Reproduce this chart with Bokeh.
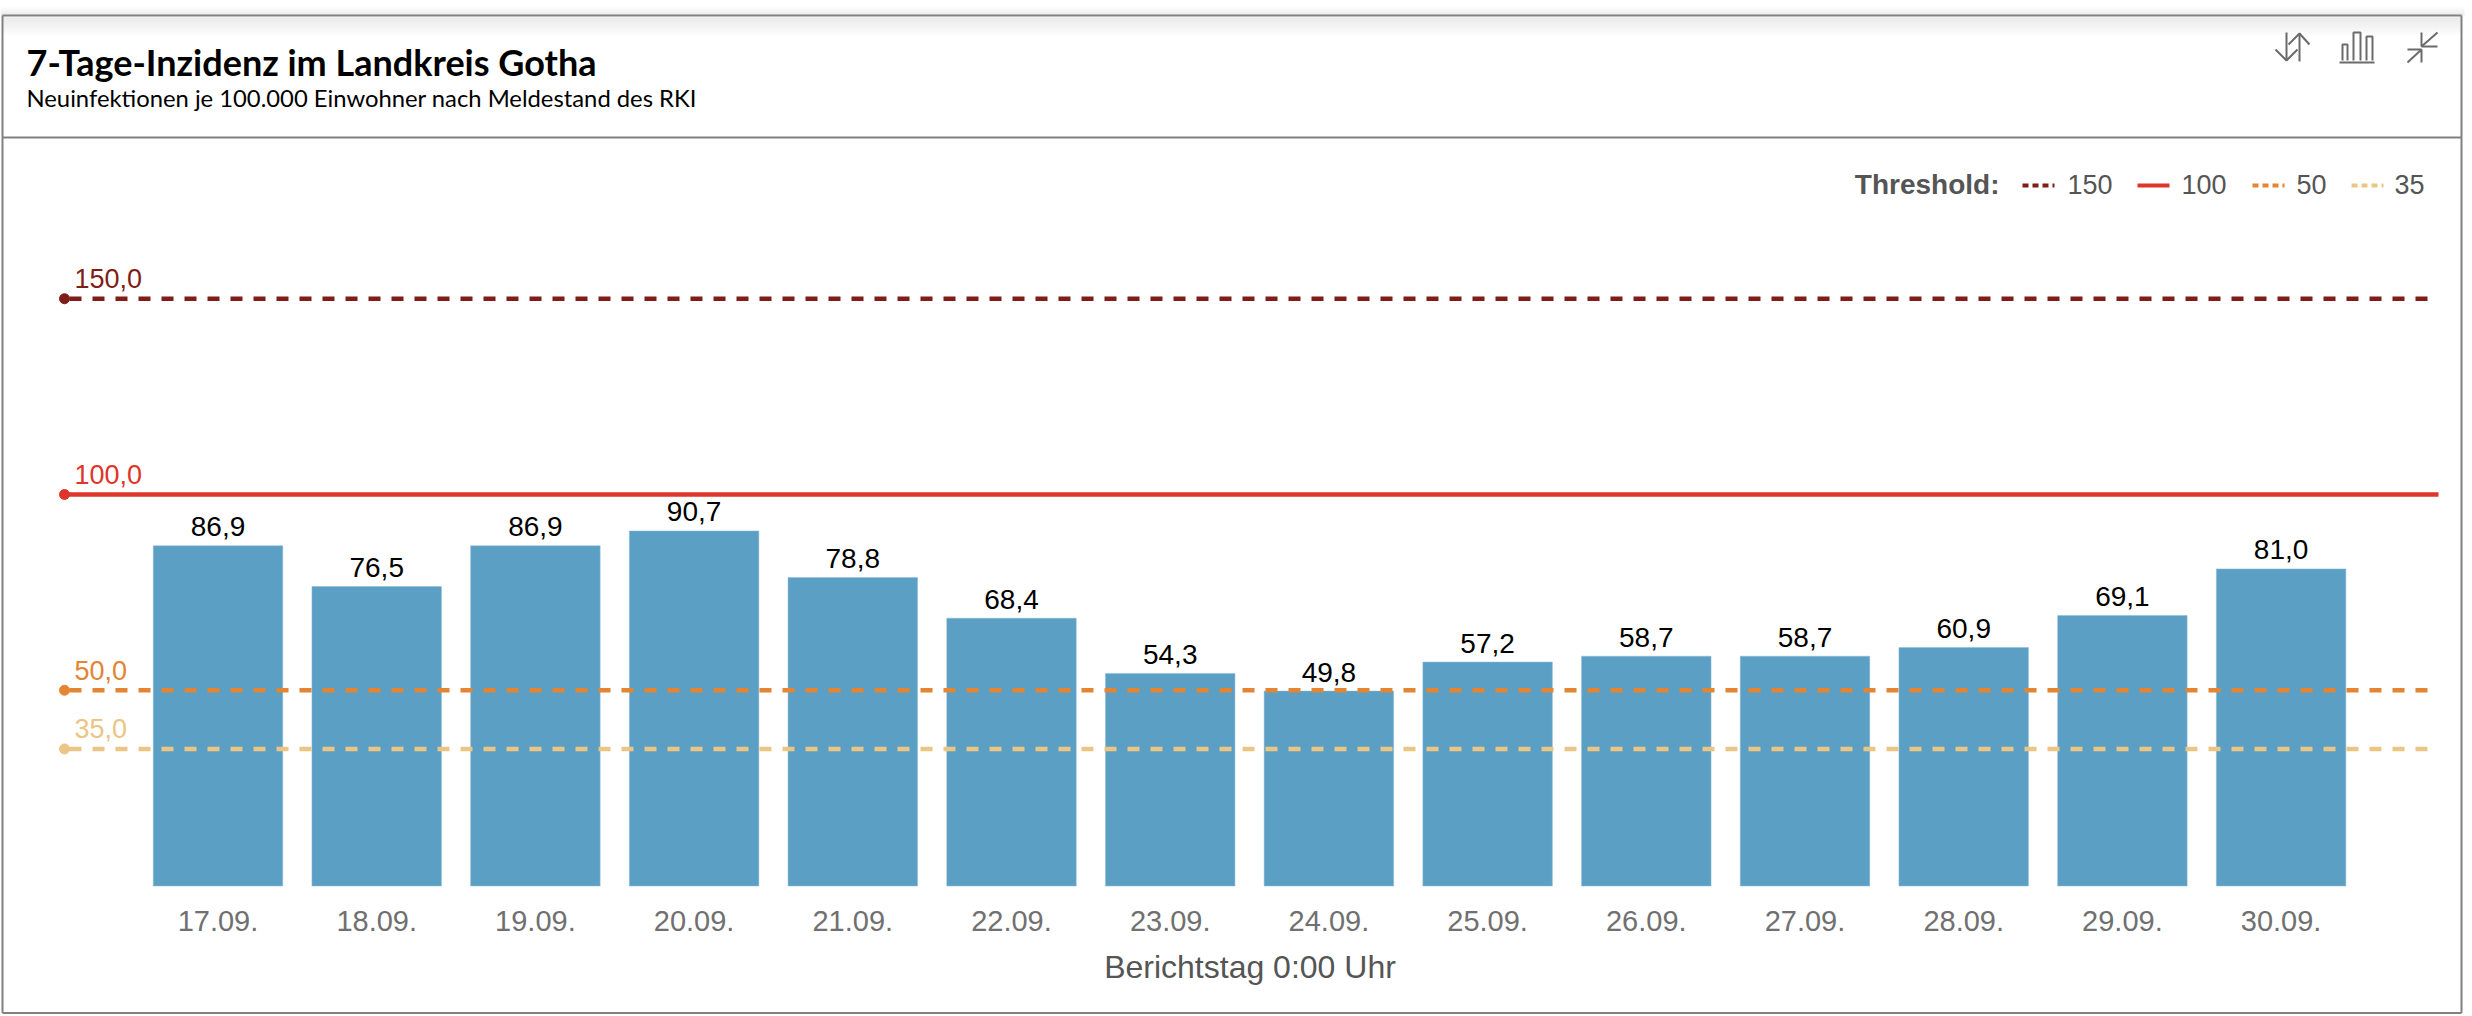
from bokeh.plotting import figure
from bokeh.models import Range1d, LinearAxis, FixedTicker
from bokeh.core.properties import value
from bokeh.embed import file_html
from bokeh.resources import INLINE

# ---- data ----
days = ["17.09.", "18.09.", "19.09.", "20.09.", "21.09.", "22.09.", "23.09.",
        "24.09.", "25.09.", "26.09.", "27.09.", "28.09.", "29.09.", "30.09."]
incidence = [86.9, 76.5, 86.9, 90.7, 78.8, 68.4, 54.3, 49.8, 57.2, 58.7, 58.7, 60.9, 69.1, 81.0]
thresholds = [150, 100, 50, 35]
threshold_colors = ["#7F1D18", "#E0352B", "#E38532", "#EBC584"]
threshold_dash = ["12 11", "solid", "12 11", "12 11"]

title = "7-Tage-Inzidenz im Landkreis Gotha"
subtitle = "Neuinfektionen je 100.000 Einwohner nach Meldestand des RKI"
x_title = "Berichtstag 0:00 Uhr"

# ---- page geometry (pixels) ----
W, H = 2472, 1016
X0, STEP = 217.5, 158.7   # pixel of the first bar centre, distance between bars
Y0, PER_UNIT = 885.5, 3.915  # pixel of value 0, pixels per unit

p = figure(width=W, height=H, output_backend="svg", toolbar_location=None,
           x_axis_location=None, y_axis_location=None, min_border=0,
           x_range=Range1d(-X0 / STEP, (W - X0) / STEP),
           y_range=Range1d((Y0 - H) / PER_UNIT, Y0 / PER_UNIT),
           outline_line_color=None, background_fill_color="white",
           border_fill_color="white")
p.styles = {"position": "absolute", "left": "0px", "top": "0px"}
p.grid.visible = False
p.extra_x_ranges = {"px": Range1d(0, W)}
p.extra_y_ranges = {"py": Range1d(H, 0)}
PX = dict(x_range_name="px", y_range_name="py")

# ---- panel chrome ----
for i in range(20):
    g = 228 + int(27 * i / 19)
    p.quad(left=2, right=2461, top=17 + i, bottom=18 + i, color=f"#{g:02x}{g:02x}{g:02x}", line_color=None, **PX)
for i in range(8):
    g = 250 - 3 * i
    p.quad(left=0, right=2464, top=7 + i, bottom=8 + i, color=f"#{g:02x}{g:02x}{g:02x}", line_color=None, **PX)
p.segment(x0=[2, 2461, 2, 2, 2], x1=[2, 2461, 2461, 2461, 2461],
          y0=[15, 15, 15, 137, 1012.5], y1=[1012.5, 1012.5, 15, 137, 1012.5],
          line_color="#808080", line_width=2, **PX)

# ---- bars ----
xs = list(range(len(days)))
p.vbar(x=xs, top=incidence, bottom=0, width=0.816, fill_color="#5B9FC4",
       line_color="#8DBBD6", line_width=0.5)

# ---- threshold lines ----
for t, c, d in zip(thresholds, threshold_colors, threshold_dash):
    p.segment(x0=[64], x1=[2438], y0=[Y0 - t * PER_UNIT], y1=[Y0 - t * PER_UNIT], line_color=c,
              line_width=4.5, line_dash=d, line_dash_offset=18, **PX)
    p.scatter(x=[64], y=[Y0 - t * PER_UNIT], size=10, fill_color=c, line_color=c, **PX)
    p.text(x=[74], y=[Y0 - t * PER_UNIT - 20], text=[f"{t:.1f}".replace(".", ",")], text_color=c,
           text_font=value("Liberation Sans"), text_font_size="27px",
           text_baseline="alphabetic", **PX)

# ---- value labels ----
p.text(x=xs, y=incidence, text=[f"{v:.1f}".replace(".", ",") for v in incidence],
       text_align="center", text_baseline="alphabetic", y_offset=-19, text_color="#000000",
       text_font=value("Liberation Sans"), text_font_size="28px")

# ---- axis ----
axis = LinearAxis(fixed_location=0, bounds=(0, len(days) - 1),
                  ticker=FixedTicker(ticks=xs),
                  major_label_overrides={i: d for i, d in enumerate(days)},
                  axis_line_color=None, major_tick_line_color=None, minor_tick_line_color=None,
                  major_label_standoff=19, major_label_text_color="#707070",
                  major_label_text_font="Liberation Sans", major_label_text_font_size="29px",
                  axis_label=x_title, axis_label_standoff=14, axis_label_text_color="#555555",
                  axis_label_text_font="Liberation Sans", axis_label_text_font_size="32px",
                  axis_label_text_font_style="normal")
p.add_layout(axis, "below")

# ---- titles ----
p.text(x=[26], y=[61], text=[title], text_font=value("Lato"), text_font_style="bold",
       text_font_size="36px", text_color="#000000", text_baseline="alphabetic", **PX)
p.text(x=[26], y=[97], text=[subtitle], text_font=value("Lato"), text_font_size="23.8px",
       text_color="#000000", text_baseline="alphabetic", **PX)

# ---- legend ----
LEG_Y = 185
LEG_TXT_Y = 184
p.text(x=[1999], y=[LEG_TXT_Y], text=["Threshold:"], text_align="right", text_baseline="alphabetic",
       text_font=value("Liberation Sans"), text_font_style="bold", text_font_size="28px",
       text_color="#555555", **PX)
for t, c, d, x_key, x_txt in zip(thresholds, threshold_colors, threshold_dash,
                                 [2022, 2137, 2252, 2351], [2067, 2181, 2296, 2394]):
    p.segment(x0=[x_key], x1=[x_key + 32], y0=[LEG_Y], y1=[LEG_Y], line_color=c, line_width=4,
              line_dash="6 4" if d != "solid" else "solid", **PX)
    p.text(x=[x_txt], y=[LEG_TXT_Y], text=[str(t)], text_baseline="alphabetic",
           text_font=value("Liberation Sans"), text_font_size="27px", text_color="#555555", **PX)

# ---- header icons ----
ICON = "#6b6b6b"
p.multi_line(xs=[[2286, 2286], [2275, 2286, 2297], [2299, 2299], [2288, 2299, 2309],
                 [2342, 2342, 2347, 2347], [2353, 2353, 2360, 2360], [2366, 2366, 2372, 2372], [2339, 2374],
                 [2437, 2421, 2421], [2437, 2421], [2407, 2421, 2421], [2407, 2421]],
             ys=[[32, 60], [49, 60, 49], [61, 33], [44, 33, 44],
                 [60, 44, 44, 60], [60, 32, 32, 60], [60, 36, 36, 60], [62, 62],
                 [32, 46, 32], [46, 46], [62, 49, 62], [49, 49]],
             line_color=ICON, line_width=2, **PX)

open("out.html", "w").write(file_html(p, INLINE))
